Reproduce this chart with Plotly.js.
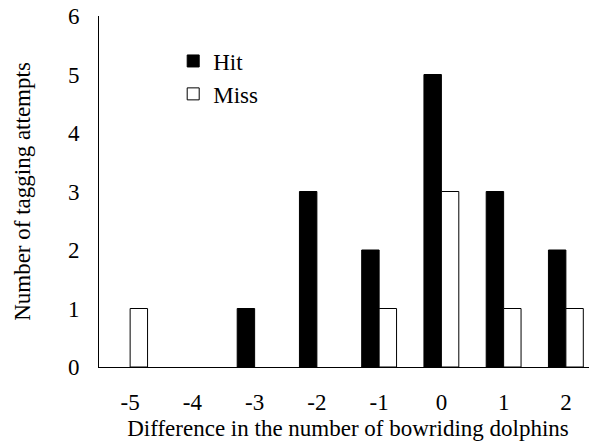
<!DOCTYPE html>
<html>
<head>
<meta charset="utf-8">
<script src="https://cdn.plot.ly/plotly-3.0.1.min.js"></script>
<style>
html,body{margin:0;padding:0;overflow:hidden;background:#fff;}
#chart{width:598px;height:444px;}
</style>
</head>
<body>
<div id="chart"></div>
<script>
const categories = ["-5", "-4", "-3", "-2", "-1", "0", "1", "2"];
const hitValues = [0, 0, 1, 3, 2, 5, 3, 2];
const missValues = [1, 0, 0, 0, 1, 3, 1, 1];
const yTicks = [0, 1, 2, 3, 4, 5, 6];

const FAMILY = "Liberation Serif";
const f = (size) => ({family: FAMILY, size: size, color: "#000"});
// zero-count bars are not drawn (avoid outline-only slivers)
const hide0 = (arr) => arr.map(v => (v === 0 ? null : v));

const traces = [
  {type: "bar", name: "Hit", x: categories, y: hide0(hitValues),
   marker: {color: "#000", line: {color: "#000", width: 1}}},
  {type: "bar", name: "Miss", x: categories, y: hide0(missValues),
   marker: {color: "#fff", line: {color: "#000", width: 1}}}
];

const layout = {
  width: 598, height: 444,
  margin: {l: 99, r: 1, t: 16, b: 77, pad: 0},
  paper_bgcolor: "#fff", plot_bgcolor: "#fff",
  font: f(23),
  barmode: "group", bargap: 0.44, bargroupgap: 0,
  showlegend: true,
  legend: {x: 0.149, y: 0.933, xanchor: "left", yanchor: "top",
           font: f(23), bgcolor: "rgba(0,0,0,0)",
           itemwidth: 30, tracegroupgap: 0},
  xaxis: {type: "category", showline: true, linecolor: "#000", linewidth: 1,
          showgrid: false, zeroline: false, ticks: "", ticklabelstandoff: 14,
          tickfont: f(23),
          title: {text: "Difference in the number of bowriding dolphins", standoff: 6,
                  font: f(23)}},
  yaxis: {range: [0, 6], tickvals: yTicks, ticktext: yTicks.map(String),
          showline: true, linecolor: "#000", linewidth: 1,
          showgrid: false, zeroline: false, ticks: "", ticklabelstandoff: 14,
          tickfont: f(23),
          title: {text: "Number of tagging attempts", standoff: 30,
                  font: f(23)}}
};

Plotly.newPlot("chart", traces, layout, {displayModeBar: false, staticPlot: true});
</script>
</body>
</html>
